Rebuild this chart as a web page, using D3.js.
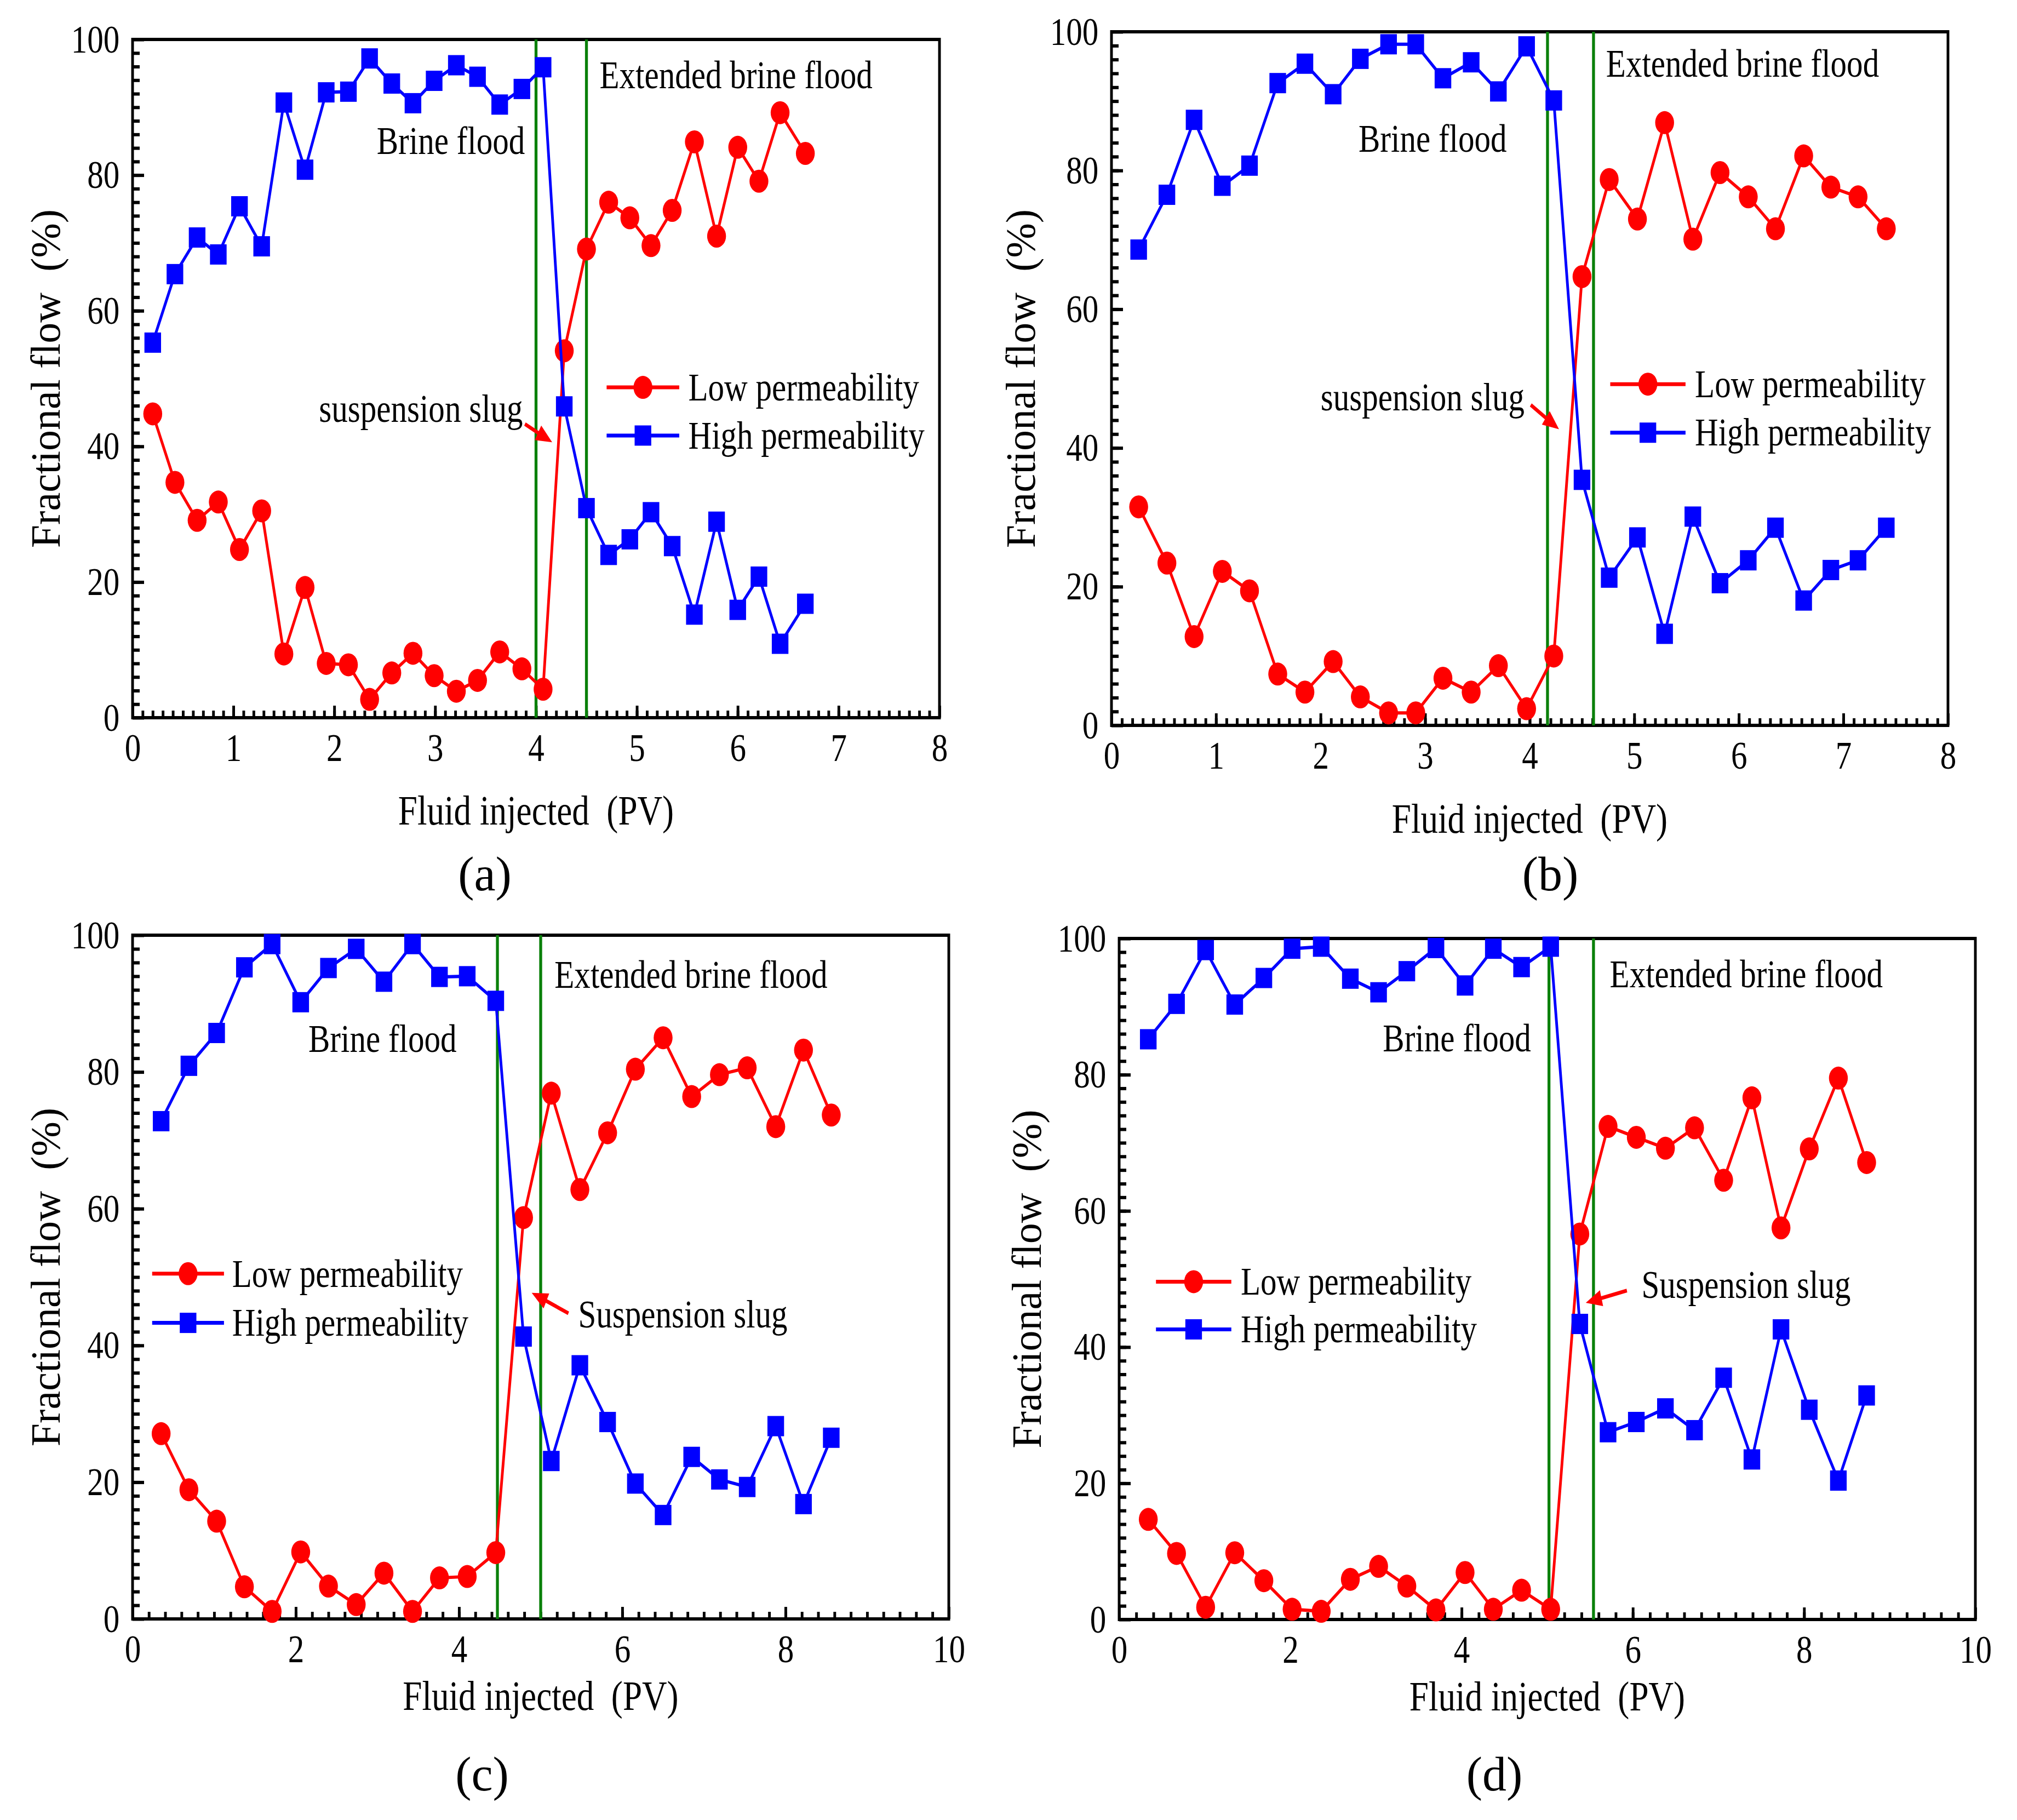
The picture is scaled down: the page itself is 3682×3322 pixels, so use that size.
<!DOCTYPE html>
<html>
<head>
<meta charset="utf-8">
<script src="https://cdn.jsdelivr.net/npm/d3@7"></script>
<style>
  body { margin: 0; background: #fff; }
  text { font-family: "Liberation Serif", "Times New Roman", serif; white-space: pre; }
</style>
</head>
<body>
<div id="vis"></div>
<script>
// ---- data ----
const xA = [0.20, 0.42, 0.64, 0.85, 1.06, 1.28, 1.50, 1.71, 1.92, 2.14, 2.35, 2.57, 2.78, 2.99, 3.21, 3.42,
            3.64, 3.86, 4.07, 4.28, 4.50, 4.72, 4.93, 5.14, 5.35, 5.57, 5.79, 6.00, 6.21, 6.42, 6.67];
const highA = [55.3, 65.4, 70.8, 68.3, 75.4, 69.5, 90.7, 80.8, 92.2, 92.3, 97.2, 93.5, 90.6, 93.9, 96.2, 94.5,
               90.4, 92.7, 95.9, 45.9, 30.9, 24.0, 26.3, 30.3, 25.3, 15.2, 28.9, 15.9, 20.8, 10.9, 16.8];
const lowA = [44.8, 34.7, 29.1, 31.8, 24.8, 30.5, 9.4, 19.2, 8.0, 7.8, 2.7, 6.6, 9.5, 6.2, 3.9, 5.5,
              9.7, 7.2, 4.2, 54.1, 69.1, 76.0, 73.7, 69.6, 74.8, 84.9, 71.0, 84.1, 79.1, 89.2, 83.2];

const xB = [0.26, 0.53, 0.79, 1.06, 1.32, 1.59, 1.85, 2.12, 2.38, 2.65, 2.91, 3.17, 3.44, 3.70,
            3.97, 4.23, 4.50, 4.76, 5.03, 5.29, 5.56, 5.82, 6.09, 6.35, 6.62, 6.88, 7.14, 7.41];
const highB = [68.6, 76.5, 87.3, 77.8, 80.7, 92.6, 95.4, 91.0, 96.1, 98.2, 98.2, 93.3, 95.6, 91.4,
               97.9, 90.1, 35.4, 21.3, 27.1, 13.2, 30.1, 20.5, 23.8, 28.5, 18.0, 22.4, 23.8, 28.5];
const lowB = [31.5, 23.4, 12.8, 22.2, 19.4, 7.4, 4.8, 9.2, 4.1, 1.8, 1.8, 6.8, 4.8, 8.6,
              2.4, 10.0, 64.7, 78.7, 73.0, 86.9, 70.1, 79.7, 76.2, 71.6, 82.1, 77.6, 76.2, 71.6];

const xC = [0.35, 0.69, 1.03, 1.37, 1.71, 2.06, 2.40, 2.74, 3.08, 3.43, 3.76, 4.10, 4.45,
            4.79, 5.13, 5.48, 5.82, 6.16, 6.50, 6.85, 7.19, 7.53, 7.88, 8.22, 8.56];
const highC = [72.8, 80.9, 85.7, 95.3, 98.7, 90.2, 95.2, 98.0, 93.2, 98.7, 93.9, 94.0, 90.4,
               41.3, 23.1, 37.1, 28.8, 19.8, 15.2, 23.7, 20.4, 19.3, 28.2, 16.8, 26.5];
const lowC = [27.1, 18.9, 14.3, 4.7, 1.1, 9.8, 4.8, 2.1, 6.7, 1.1, 6.0, 6.2, 9.7,
              58.7, 76.9, 62.8, 71.1, 80.4, 85.0, 76.4, 79.6, 80.6, 72.0, 83.2, 73.7];

const xD = [0.34, 0.67, 1.01, 1.35, 1.69, 2.02, 2.36, 2.70, 3.03, 3.36, 3.70, 4.04, 4.37, 4.70,
            5.04, 5.38, 5.71, 6.04, 6.38, 6.72, 7.06, 7.39, 7.73, 8.06, 8.40, 8.73];
const highD = [85.2, 90.4, 98.3, 90.3, 94.2, 98.5, 98.8, 94.1, 92.1, 95.2, 98.6, 93.1, 98.5, 95.8,
               98.8, 43.4, 27.5, 29.0, 31.0, 27.8, 35.5, 23.5, 42.6, 30.8, 20.4, 32.9];
const lowD = [14.7, 9.7, 1.8, 9.8, 5.7, 1.5, 1.2, 5.9, 7.8, 4.9, 1.4, 6.9, 1.5, 4.3,
              1.5, 56.6, 72.4, 70.8, 69.2, 72.2, 64.5, 76.6, 57.5, 69.1, 79.5, 67.1];

// slug start / end (PV) for each panel
const slugA = [4.0, 4.5];
const slugB = [4.17, 4.61];
const slugC = [4.47, 5.0];
const slugD = [5.02, 5.54];

const seriesNames = ["Low permeability", "High permeability"];
const yTicks = [0, 20, 40, 60, 80, 100];

// the original figure is squashed horizontally, so draw in a scaled group
const SX = 0.82;
const W = 3682, H = 3322;

const panels = [
  { label: "(a)", xs: xA, low: lowA, high: highA, slug: slugA,
    box: [242, 1715, 72, 1310], xMax: 8, xMajor: 1, xMinor: 0.1,
    yTitleOff: 133, xTitleOff: 195, labelPos: [885, 1625],
    ext: [4.63, 92.8], brine: [3.89, 83.1],
    slugText: { text: "suspension slug", x: 3.87, y: 43.6, anchor: "end" },
    arrow: [3.89, 43.3, 4.16, 40.6],
    legend: { x1: 4.70, x2: 5.42, tx: 5.51, y1: 48.7, y2: 41.6 } },
  { label: "(b)", xs: xB, low: lowB, high: highB, slug: slugB,
    box: [2029, 3556, 58, 1324], xMax: 8, xMajor: 1, xMinor: 0.1,
    yTitleOff: 140, xTitleOff: 196, labelPos: [2830, 1625],
    ext: [4.73, 93.5], brine: [3.78, 82.7],
    slugText: { text: "suspension slug", x: 3.95, y: 45.4, anchor: "end" },
    arrow: [4.01, 46.2, 4.28, 42.7],
    legend: { x1: 4.77, x2: 5.49, tx: 5.58, y1: 49.2, y2: 42.2 } },
  { label: "(c)", xs: xC, low: lowC, high: highC, slug: slugC,
    box: [242, 1732, 1707, 2955], xMax: 10, xMajor: 2, xMinor: 0.2,
    yTitleOff: 133, xTitleOff: 166, labelPos: [880, 3268],
    ext: [5.17, 92.3], brine: [3.97, 82.9],
    slugText: { text: "Suspension slug", x: 5.46, y: 42.6, anchor: "start" },
    arrow: [5.34, 44.7, 4.89, 47.7],
    legend: { x1: 0.24, x2: 1.12, tx: 1.22, y1: 50.5, y2: 43.3 } },
  { label: "(d)", xs: xD, low: lowD, high: highD, slug: slugD,
    box: [2043, 3606, 1713, 2956], xMax: 10, xMajor: 2, xMinor: 0.2,
    yTitleOff: 143, xTitleOff: 166, labelPos: [2728, 3268],
    ext: [5.73, 92.8], brine: [4.81, 83.4],
    slugText: { text: "Suspension slug", x: 6.10, y: 47.2, anchor: "start" },
    arrow: [5.93, 48.3, 5.45, 46.5],
    legend: { x1: 0.43, x2: 1.31, tx: 1.42, y1: 49.6, y2: 42.6 } }
];

const svg = d3.select("#vis")
    .append("svg")
    .attr("width", W)
    .attr("height", H);

svg.append("rect")
    .attr("width", W)
    .attr("height", H)
    .attr("fill", "#fff");

const root = svg.append("g")
    .attr("transform", `scale(${SX},1)`);

const RED = "#ff0000", BLUE = "#0000ff", GREEN = "#0a800a";
const R = 21, SQ = 37;

function drawMarkers(g, data, kind, color) {
  if (kind === "circle") {
    g.selectAll(null).data(data).enter().append("circle")
        .attr("cx", d => d[0]).attr("cy", d => d[1])
        .attr("r", R).attr("fill", color);
  } else {
    g.selectAll(null).data(data).enter().append("rect")
        .attr("x", d => d[0] - SQ / 2).attr("y", d => d[1] - SQ / 2)
        .attr("width", SQ).attr("height", SQ).attr("fill", color);
  }
}

function drawArrow(g, x0, y0, x1, y1) {
  const dx = x1 - x0, dy = y1 - y0, len = Math.hypot(dx, dy);
  const ux = dx / len, uy = dy / len;
  const hl = 36, hw = 15;
  const bx = x1 - ux * hl, by = y1 - uy * hl;
  g.append("line")
      .attr("x1", x0).attr("y1", y0).attr("x2", bx + ux * 4).attr("y2", by + uy * 4)
      .attr("stroke", RED).attr("stroke-width", 7);
  g.append("path")
      .attr("d", `M${x1},${y1}L${bx - uy * hw},${by + ux * hw}L${bx + uy * hw},${by - ux * hw}Z`)
      .attr("fill", RED);
}

function drawPanel(p) {
  const L = p.box[0] / SX, Rr = p.box[1] / SX, T = p.box[2], B = p.box[3];
  const x = d3.scaleLinear().domain([0, p.xMax]).range([L, Rr]);
  const y = d3.scaleLinear().domain([0, 100]).range([B, T]);
  const g = root.append("g");

  // minor ticks
  const nx = Math.round(p.xMax / p.xMinor);
  const xMinorVals = d3.range(1, nx).map(i => i * p.xMinor);
  const yMinorVals = d3.range(1, 50).map(i => i * 2);
  g.append("g").attr("class", "tk").attr("transform", `translate(0,${B})`)
      .call(d3.axisBottom(x).tickValues(xMinorVals).tickSize(-13).tickFormat(""));
  g.append("g").attr("class", "tk").attr("transform", `translate(${L},0)`)
      .call(d3.axisLeft(y).tickValues(yMinorVals).tickSize(-13 / SX).tickFormat(""));

  // major ticks with labels
  const xMajorVals = d3.range(0, p.xMax / p.xMajor + 1).map(i => i * p.xMajor);
  g.append("g").attr("class", "tk lab").attr("transform", `translate(0,${B})`)
      .call(d3.axisBottom(x).tickValues(xMajorVals).tickSize(-22).tickPadding(28));
  g.append("g").attr("class", "tk lab").attr("transform", `translate(${L},0)`)
      .call(d3.axisLeft(y).tickValues(yTicks).tickSize(-21 / SX).tickPadding(29));

  g.selectAll(".tk .domain").remove();
  g.selectAll(".tk line").attr("stroke", "#000").attr("stroke-width", 6);
  g.selectAll(".lab text")
      .attr("font-family", "Liberation Serif, Times New Roman, serif")
      .attr("font-size", 72)
      .attr("fill", "#000");

  // frame
  g.append("rect")
      .attr("x", L).attr("y", T)
      .attr("width", Rr - L).attr("height", B - T)
      .attr("fill", "none").attr("stroke", "#000").attr("stroke-width", 6);

  // slug boundaries
  g.selectAll(null).data(p.slug).enter().append("line")
      .attr("x1", d => x(d)).attr("x2", d => x(d))
      .attr("y1", T).attr("y2", B)
      .attr("stroke", GREEN).attr("stroke-width", 6.5);

  // series
  const lowPts = p.xs.map((v, i) => [x(v), y(p.low[i])]);
  const highPts = p.xs.map((v, i) => [x(v), y(p.high[i])]);
  const line = d3.line();
  g.append("path").attr("d", line(lowPts)).attr("fill", "none")
      .attr("stroke", RED).attr("stroke-width", 6);
  drawMarkers(g, lowPts, "circle", RED);
  g.append("path").attr("d", line(highPts)).attr("fill", "none")
      .attr("stroke", BLUE).attr("stroke-width", 6);
  drawMarkers(g, highPts, "square", BLUE);

  // annotations
  const ann = g.append("g").attr("font-size", 72).attr("fill", "#000");
  ann.append("text").attr("x", x(p.ext[0])).attr("y", y(p.ext[1]))
      .text("Extended brine flood");
  ann.append("text").attr("x", x(p.brine[0])).attr("y", y(p.brine[1]))
      .attr("text-anchor", "end").text("Brine flood");
  ann.append("text").attr("x", x(p.slugText.x)).attr("y", y(p.slugText.y))
      .attr("text-anchor", p.slugText.anchor).text(p.slugText.text);
  drawArrow(g, x(p.arrow[0]), y(p.arrow[1]), x(p.arrow[2]), y(p.arrow[3]));

  // legend
  const lg = p.legend;
  const rows = [
    { name: seriesNames[0], yv: lg.y1, color: RED, kind: "circle" },
    { name: seriesNames[1], yv: lg.y2, color: BLUE, kind: "square" }
  ];
  rows.forEach(r => {
    const yy = y(r.yv);
    g.append("line")
        .attr("x1", x(lg.x1)).attr("x2", x(lg.x2))
        .attr("y1", yy).attr("y2", yy)
        .attr("stroke", r.color).attr("stroke-width", 7);
    drawMarkers(g, [[(x(lg.x1) + x(lg.x2)) / 2, yy]], r.kind, r.color);
    g.append("text")
        .attr("x", x(lg.tx)).attr("y", yy).attr("dy", "0.33em")
        .attr("font-size", 72).text(r.name);
  });

  // axis titles
  g.append("text")
      .attr("x", (L + Rr) / 2).attr("y", B + p.xTitleOff)
      .attr("text-anchor", "middle").attr("font-size", 77)
      .text("Fluid injected  (PV)");
  svg.append("text")
      .attr("transform", `translate(${p.box[0] - p.yTitleOff},${(T + B) / 2}) rotate(-90)`)
      .attr("text-anchor", "middle").attr("font-size", 76)
      .text("Fractional flow  (%)");

  // panel label (not squashed)
  svg.append("text")
      .attr("x", p.labelPos[0]).attr("y", p.labelPos[1])
      .attr("text-anchor", "middle").attr("font-size", 88)
      .text(p.label);
}

panels.forEach(drawPanel);
</script>
</body>
</html>
